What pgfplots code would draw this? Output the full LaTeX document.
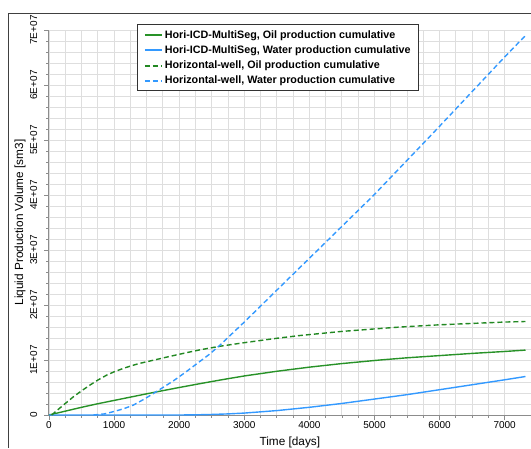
\documentclass[border=0pt]{standalone}
\usepackage{pgfplots}
\pgfplotsset{compat=1.18}
\usepackage{fontspec}
\setmainfont{Liberation Sans}
\definecolor{gsolid}{RGB}{40,146,40}
\definecolor{gdash}{RGB}{34,136,34}
\definecolor{bsolid}{RGB}{51,153,255}
\definecolor{bdash}{RGB}{51,153,255}
\definecolor{gridc}{RGB}{222,222,222}
\definecolor{axc}{RGB}{140,140,140}
\definecolor{framec}{RGB}{64,64,64}
\begin{document}
\begin{tikzpicture}
\useasboundingbox (0pt,0pt) rectangle (531pt,448pt);
\draw[framec, line width=1pt] (8.3pt,0pt) -- (8.3pt,434.7pt) -- (531pt,434.7pt);
\begin{axis}[
  at={(49pt,33pt)}, anchor=origin,
  scale only axis,
  width=481.7pt, height=385pt,
  xmin=0, xmax=7400, ymin=0, ymax=7e7,
  axis lines=left,
  axis line style={-, draw=axc, line width=1pt},
  clip=false,
  scaled ticks=false,
  xtick={0,1000,2000,3000,4000,5000,6000,7000},
  xticklabels={0,1000,2000,3000,4000,5000,6000,7000},
  ytick={0,1e7,2e7,3e7,4e7,5e7,6e7,7e7},
  yticklabels={0,1E+07,2E+07,3E+07,4E+07,5E+07,6E+07,7E+07},
  minor x tick num=3,
  minor y tick num=4,
  grid=both,
  major grid style={draw=gridc, line width=0.9pt},
  minor grid style={draw=gridc, line width=0.9pt},
  tick align=outside,
  major tick length=4.5pt,
  minor tick length=2.5pt,
  tick style={draw=axc, line width=0.8pt},
  ticklabel style={font=\fontsize{10}{12}\selectfont},
  yticklabel style={rotate=90, anchor=south, inner sep=0pt, yshift=7pt},
  xticklabel style={anchor=north, inner sep=0pt, yshift=-2pt},
  xlabel={Time [days]},
  ylabel={Liquid Production Volume [sm3]},
  label style={font=\fontsize{11.8}{14}\selectfont},
  xlabel style={at={(axis description cs:0.5,0)}, anchor=north, inner sep=0pt, yshift=-22pt},
  ylabel style={at={(axis description cs:0,0.5)}, anchor=center, inner sep=0pt, yshift=29pt},
  legend cell align=left,
  legend image post style={line width=2pt},
  legend style={at={(rel axis cs:0.1837,1.0148)}, anchor=north west,
    draw=black!80, line width=1pt, fill=white,
    inner xsep=6pt, inner ysep=2.5pt,
    font=\fontsize{10.75}{12}\selectfont\bfseries,
    nodes={inner xsep=1.8pt, inner ysep=3pt}, row sep=0pt},
]
\addplot[gsolid, line width=1.4pt] coordinates {
(0,0) (250,7e5) (500,1.4e6) (750,2.05e6) (1000,2.65e6) (1250,3.25e6) (1500,3.85e6) (1750,4.43e6) (2000,5.0e6)
(2320,5.7e6) (2650,6.4e6) (3000,7.1e6) (3500,7.95e6) (4000,8.7e6) (4500,9.35e6) (5084,1.0e7) (5500,1.04e7)
(6000,1.08e7) (6500,1.12e7) (7000,1.155e7) (7320,1.18e7)};
\addlegendentry{Hori-ICD-MultiSeg, Oil production cumulative}
\addplot[bsolid, line width=1.4pt] coordinates {
(0,0) (2000,0) (2250,3e4) (2500,1e5) (2750,2e5) (3000,3.5e5) (3500,8e5) (4000,1.4e6) (4500,2.1e6)
(5000,2.9e6) (5500,3.7e6) (6000,4.6e6) (6500,5.5e6) (7000,6.4e6) (7320,7.0e6)};
\addlegendentry{Hori-ICD-MultiSeg, Water production cumulative}
\addplot[gdash, line width=1.4pt, dash pattern=on 5pt off 3pt] coordinates {
(41,0) (200,1.6e6) (374,3.3e6) (500,4.4e6) (630,5.45e6) (750,6.35e6) (886,7.25e6) (1000,7.85e6)
(1142,8.48e6) (1270,8.97e6) (1398,9.4e6) (1654,1.01e7) (1910,1.08e7) (2100,1.13e7) (2320,1.185e7) (2627,1.25e7)
(3000,1.315e7) (3500,1.395e7) (3855,1.445e7) (4500,1.52e7) (5000,1.565e7) (5400,1.6e7) (6000,1.64e7)
(6500,1.665e7) (7000,1.69e7) (7320,1.70e7)};
\addlegendentry{Horizontal-well, Oil production cumulative}
\addplot[bdash, line width=1.4pt, dash pattern=on 5pt off 3pt] coordinates {
(681,0) (850,2e5) (988,6e5) (1150,1.15e6) (1295,1.8e6) (1450,2.8e6) (1603,3.9e6) (1750,5.0e6) (1910,6.2e6)
(2100,7.8e6) (2290,9.5e6) (2460,1.1e7) (2627,1.27e7) (3000,1.69e7) (3500,2.27e7) (4000,2.85e7)
(4500,3.43e7) (5000,4.01e7) (5500,4.63e7) (6000,5.25e7) (6500,5.88e7) (7000,6.51e7) (7320,6.9e7)};
\addlegendentry{Horizontal-well, Water production cumulative}
\end{axis}
\end{tikzpicture}
\end{document}
